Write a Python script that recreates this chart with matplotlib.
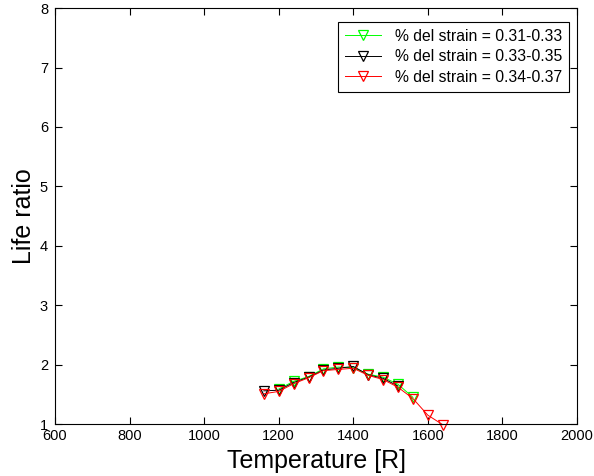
import matplotlib
matplotlib.use('Agg')
import matplotlib.pyplot as plt

plt.rcParams['font.family'] = ['Liberation Sans', 'DejaVu Sans']

# data
temp_g = [1200, 1240, 1280, 1320, 1360, 1400, 1440, 1480, 1520, 1560]
life_g = [1.59, 1.72, 1.80, 1.93, 1.96, 1.95, 1.84, 1.79, 1.67, 1.45]

temp_k = [1160, 1200, 1240, 1280, 1320, 1360, 1400, 1440, 1480, 1520]
life_k = [1.56, 1.57, 1.70, 1.79, 1.91, 1.94, 1.97, 1.83, 1.77, 1.64]

temp_r = [1160, 1200, 1240, 1280, 1320, 1360, 1400, 1440, 1480, 1520, 1560, 1600, 1640]
life_r = [1.51, 1.55, 1.68, 1.78, 1.90, 1.92, 1.94, 1.82, 1.75, 1.62, 1.43, 1.15, 0.99]

labels = ['% del strain = 0.31-0.33', '% del strain = 0.33-0.35', '% del strain = 0.34-0.37']
xticks = [600, 800, 1000, 1200, 1400, 1600, 1800, 2000]
yticks = [1, 2, 3, 4, 5, 6, 7, 8]

fig = plt.figure(figsize=(5.94, 4.76), dpi=100)
ax = fig.add_axes([0.0926, 0.109, 0.8788, 0.874])

series = [(temp_g, life_g, '#00ff00'), (temp_k, life_k, 'black'), (temp_r, life_r, '#ff0000')]
for (x, y, c), lab in zip(series, labels):
	ax.plot(x, y, color=c, marker='v', markersize=7, markerfacecolor='none',
		markeredgecolor=c, linewidth=0.7, markeredgewidth=0.9, label=lab, clip_on=False)

ax.set_xlim(600, 2000)
ax.set_ylim(1, 8)
ax.set_xticks(xticks)
ax.set_yticks(yticks)
ax.tick_params(direction='in', top=True, right=True, labelsize=10.5, length=5, width=0.8)
ax.tick_params(axis='y', pad=5)
for s in ax.spines.values():
	s.set_linewidth(0.8)

ax.set_xlabel('Temperature [R]', fontsize=18, labelpad=4)
ax.set_ylabel('Life ratio', fontsize=18, labelpad=3)

leg = ax.legend(loc='upper right', bbox_to_anchor=(0.985, 0.967), fontsize=11.3,
	frameon=True, fancybox=False, edgecolor='black', framealpha=1, borderaxespad=0,
	handlelength=2.3, handletextpad=0.9, borderpad=0.45, labelspacing=0.35)
leg.get_frame().set_linewidth(0.8)

fig.savefig('out.png', dpi=100)
